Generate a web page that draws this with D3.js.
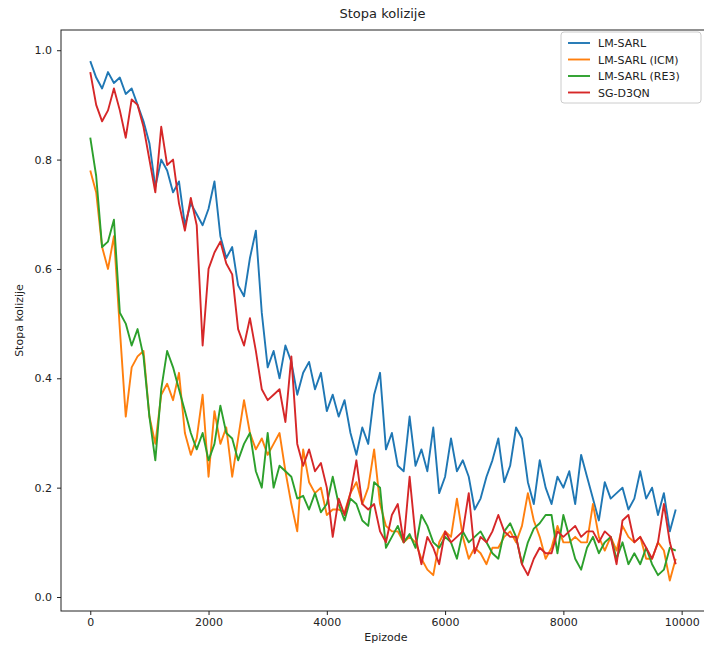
<!DOCTYPE html>
<html>
<head>
<meta charset="utf-8">
<script src="https://cdn.jsdelivr.net/npm/d3@7"></script>
<style>
  body { margin: 0; background: #fff; }
  svg text { font-family: "DejaVu Sans", sans-serif; fill: #222; }
</style>
</head>
<body>
<div id="chart"></div>
<script>
// episodes sampled every 100
const episodes = d3.range(0, 10000, 100)

const lmSarl = [0.98,0.95,0.93,0.96,0.94,0.95,0.92,0.93,0.90,0.87,
  0.83,0.75,0.80,0.78,0.74,0.76,0.68,0.72,0.70,0.68,
  0.71,0.76,0.66,0.62,0.64,0.57,0.55,0.62,0.67,0.52,
  0.42,0.45,0.40,0.46,0.43,0.37,0.41,0.43,0.38,0.41,
  0.34,0.37,0.33,0.36,0.30,0.26,0.31,0.28,0.37,0.41,
  0.27,0.30,0.24,0.23,0.33,0.24,0.27,0.23,0.31,0.19,
  0.22,0.29,0.23,0.25,0.22,0.16,0.18,0.22,0.25,0.29,
  0.21,0.24,0.31,0.29,0.21,0.17,0.25,0.20,0.17,0.22,
  0.20,0.23,0.17,0.26,0.22,0.18,0.14,0.21,0.18,0.19,
  0.20,0.16,0.18,0.23,0.18,0.20,0.15,0.19,0.12,0.16]

const lmSarlIcm = [0.78,0.74,0.64,0.60,0.66,0.49,0.33,0.42,0.44,0.45,
  0.33,0.28,0.37,0.39,0.36,0.41,0.30,0.26,0.29,0.37,
  0.22,0.34,0.28,0.31,0.22,0.29,0.36,0.30,0.27,0.29,
  0.26,0.28,0.30,0.23,0.17,0.12,0.27,0.21,0.19,0.20,
  0.15,0.16,0.16,0.155,0.19,0.21,0.17,0.20,0.27,0.17,
  0.13,0.12,0.12,0.10,0.11,0.10,0.07,0.05,0.04,0.10,
  0.12,0.11,0.18,0.11,0.07,0.09,0.08,0.06,0.09,0.09,
  0.11,0.12,0.10,0.13,0.19,0.14,0.11,0.07,0.09,0.13,
  0.10,0.10,0.11,0.10,0.10,0.17,0.11,0.085,0.11,0.085,
  0.13,0.11,0.10,0.11,0.07,0.07,0.10,0.085,0.03,0.07]

const lmSarlRe3 = [0.84,0.77,0.64,0.65,0.69,0.52,0.50,0.46,0.49,0.44,
  0.33,0.25,0.38,0.45,0.42,0.38,0.34,0.30,0.27,0.30,
  0.25,0.28,0.35,0.30,0.29,0.25,0.28,0.30,0.23,0.20,
  0.30,0.20,0.24,0.23,0.22,0.18,0.185,0.16,0.19,0.155,
  0.17,0.22,0.17,0.14,0.18,0.17,0.14,0.13,0.21,0.20,
  0.09,0.11,0.13,0.10,0.115,0.09,0.15,0.13,0.10,0.09,
  0.11,0.10,0.07,0.12,0.10,0.11,0.12,0.10,0.08,0.07,
  0.12,0.135,0.11,0.06,0.10,0.125,0.135,0.15,0.15,0.08,
  0.15,0.11,0.07,0.05,0.09,0.11,0.08,0.10,0.11,0.07,
  0.10,0.06,0.08,0.06,0.09,0.06,0.04,0.05,0.09,0.085]

const sgD3qn = [0.96,0.90,0.87,0.89,0.93,0.89,0.84,0.91,0.90,0.86,
  0.80,0.74,0.86,0.79,0.80,0.72,0.67,0.73,0.68,0.46,
  0.60,0.63,0.65,0.61,0.59,0.49,0.46,0.51,0.45,0.38,
  0.36,0.37,0.38,0.32,0.44,0.28,0.24,0.27,0.23,0.245,
  0.20,0.11,0.18,0.15,0.19,0.25,0.17,0.16,0.17,0.12,
  0.10,0.15,0.17,0.10,0.22,0.11,0.06,0.11,0.09,0.06,
  0.12,0.10,0.11,0.12,0.19,0.08,0.11,0.10,0.12,0.15,
  0.12,0.11,0.11,0.06,0.04,0.07,0.09,0.08,0.08,0.12,
  0.11,0.12,0.13,0.11,0.12,0.12,0.10,0.12,0.11,0.06,
  0.14,0.15,0.10,0.11,0.09,0.07,0.10,0.17,0.10,0.06]

const seriesNames = ["LM-SARL", "LM-SARL (ICM)", "LM-SARL (RE3)", "SG-D3QN"]
const seriesValues = [lmSarl, lmSarlIcm, lmSarlRe3, sgD3qn]
const colors = ["#1f77b4", "#ff7f0e", "#2ca02c", "#d62728"]
const xTicks = [0, 2000, 4000, 6000, 8000, 10000]
const yTicks = [0.0, 0.2, 0.4, 0.6, 0.8, 1.0]

const width = 704, height = 645
const margin = {top: 30, right: -1, bottom: 34, left: 61}

const svg = d3.select("#chart").append("svg")
    .attr("width", width)
    .attr("height", height)

const x = d3.scaleLinear()
    .domain([-495, 10395])
    .range([margin.left, width - margin.right])

const y = d3.scaleLinear()
    .domain([-0.0256, 1.037])
    .range([height - margin.bottom, margin.top])

// lines
const line = d3.line()
    .x((d, i) => x(episodes[i]))
    .y(d => y(d))

const plot = svg.append("g")
seriesValues.forEach((vals, k) => {
    plot.append("path")
        .datum(vals)
        .attr("d", line)
        .attr("fill", "none")
        .attr("stroke", colors[k])
        .attr("stroke-width", 1.9)
        .attr("stroke-linejoin", "round")
})

// axes
const xAxis = svg.append("g")
    .attr("transform", `translate(0,${height - margin.bottom})`)
    .call(d3.axisBottom(x).tickValues(xTicks).tickFormat(d3.format("d")).tickSize(4).tickPadding(3))
const yAxis = svg.append("g")
    .attr("transform", `translate(${margin.left},0)`)
    .call(d3.axisLeft(y).tickValues(yTicks).tickFormat(d3.format(".1f")).tickSize(4).tickPadding(5))

;[xAxis, yAxis].forEach(a => {
    a.select(".domain").remove()
    a.selectAll("text").attr("font-size", 11).style("fill", "#222")
    a.selectAll("line").attr("stroke", "#222")
})

// frame
svg.append("rect")
    .attr("x", margin.left)
    .attr("y", margin.top)
    .attr("width", width - margin.right - margin.left)
    .attr("height", height - margin.bottom - margin.top)
    .attr("fill", "none")
    .attr("stroke", "#222")
    .attr("stroke-width", 1)

// labels
svg.append("text")
    .attr("x", (margin.left + width) / 2)
    .attr("y", 18)
    .attr("text-anchor", "middle")
    .attr("font-size", 13)
    .text("Stopa kolizije")

svg.append("text")
    .attr("x", x(5000))
    .attr("y", 641)
    .attr("text-anchor", "middle")
    .attr("font-size", 11)
    .text("Epizode")

svg.append("text")
    .attr("transform", `translate(23,${(margin.top + height - margin.bottom) / 2}) rotate(-90)`)
    .attr("text-anchor", "middle")
    .attr("font-size", 11)
    .text("Stopa kolizije")

// legend
const legend = svg.append("g").attr("transform", "translate(561,32)")
legend.append("rect")
    .attr("width", 140)
    .attr("height", 71)
    .attr("rx", 3)
    .attr("fill", "#fff")
    .attr("fill-opacity", 0.8)
    .attr("stroke", "#ccc")

seriesNames.forEach((name, i) => {
    const g = legend.append("g").attr("transform", `translate(0,${11 + i * 16.5})`)
    g.append("line")
        .attr("x1", 7).attr("x2", 29)
        .attr("stroke", colors[i])
        .attr("stroke-width", 1.9)
    g.append("text")
        .attr("x", 37)
        .attr("y", 4)
        .attr("font-size", 11)
        .text(name)
})
</script>
</body>
</html>
